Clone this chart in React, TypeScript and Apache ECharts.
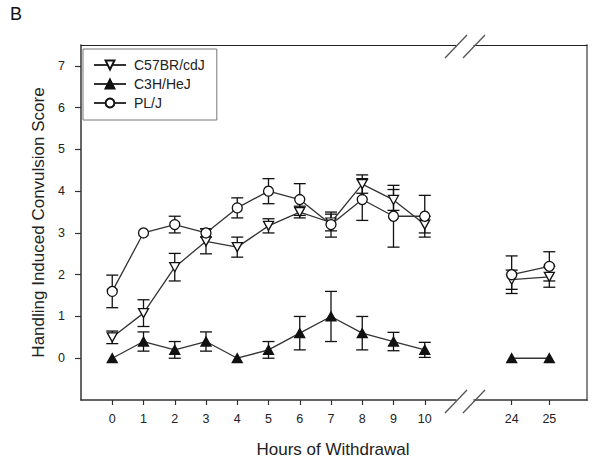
import React, { useEffect, useRef } from "react";
import * as echarts from "echarts";

// Hours of withdrawal (two segments of a broken axis)
const hoursEarly = [0, 1, 2, 3, 4, 5, 6, 7, 8, 9, 10];
const hoursLate = [24, 25];

// C57BR/cdJ (open down-triangle)
const c57Early = [0.5, 1.08, 2.18, 2.8, 2.66, 3.17, 3.5, 3.25, 4.17, 3.79, 3.2];
const c57EarlyErr = [0.15, 0.32, 0.33, 0.3, 0.24, 0.17, 0.14, 0.2, 0.22, 0.25, 0.2];
const c57Late = [1.88, 1.95];
const c57LateErr = [0.23, 0.25];

// C3H/HeJ (filled up-triangle)
const c3hEarly = [0, 0.4, 0.2, 0.4, 0, 0.2, 0.6, 1.0, 0.6, 0.4, 0.2];
const c3hEarlyErr = [0, 0.23, 0.2, 0.23, 0, 0.2, 0.4, 0.6, 0.4, 0.22, 0.18];
const c3hLate = [0, 0];
const c3hLateErr = [0, 0];

// PL/J (open circle)
const plEarly = [1.6, 3.0, 3.2, 3.0, 3.6, 4.0, 3.8, 3.2, 3.8, 3.4, 3.4];
const plEarlyErr = [0.39, 0, 0.2, 0.1, 0.24, 0.3, 0.38, 0.3, 0.5, 0.74, 0.5];
const plLate = [2.0, 2.2];
const plLateErr = [0.45, 0.35];

const yTicks = [0, 1, 2, 3, 4, 5, 6, 7];
const xTicksEarly = [0, 1, 2, 3, 4, 5, 6, 7, 8, 9, 10];
const xTicksLate = [24, 25];

const FONT = "'Liberation Sans', Arial, Helvetica, sans-serif";
const INK = "#111";
const LINE = "#333";

const downTri = "path://M0,0 L10,0 L5,9 Z";

export default function App() {
  const ref = useRef<HTMLDivElement>(null);

  useEffect(() => {
    if (!ref.current) return;
    const chart = echarts.init(ref.current, null, { renderer: "svg" });

    const pts = (xs: number[], ys: number[]) => xs.map((x, i) => [x, ys[i]]);
    const errs = (xs: number[], ys: number[], es: number[]) =>
      xs
        .map((x, i) => [x, ys[i] - es[i], ys[i] + es[i], es[i]])
        .filter((d) => d[3] > 0)
        .map((d) => [d[0], d[1], d[2]]);

    const renderErr = (params: any, api: any) => {
      const x = api.value(0);
      const lo = api.value(1);
      const hi = api.value(2);
      const p1 = api.coord([x, hi]);
      const p2 = api.coord([x, lo]);
      const w = 6;
      const st = { stroke: INK, lineWidth: 1.3 };
      return {
        type: "group",
        children: [
          { type: "line", shape: { x1: p1[0], y1: p1[1], x2: p2[0], y2: p2[1] }, style: st },
          { type: "line", shape: { x1: p1[0] - w, y1: p1[1], x2: p1[0] + w, y2: p1[1] }, style: st },
          { type: "line", shape: { x1: p2[0] - w, y1: p2[1], x2: p2[0] + w, y2: p2[1] }, style: st },
        ],
      };
    };

    const errSeries = (xi: number, data: number[][]) => ({
      type: "custom",
      xAxisIndex: xi,
      yAxisIndex: xi,
      renderItem: renderErr,
      encode: { x: 0, y: [1, 2] },
      data,
      z: 2,
      silent: true,
    });

    const defs = [
      {
        name: "C57BR/cdJ",
        symbol: downTri,
        symbolSize: [10, 9],
        fill: "#fff",
        early: c57Early,
        earlyErr: c57EarlyErr,
        late: c57Late,
        lateErr: c57LateErr,
      },
      {
        name: "C3H/HeJ",
        symbol: "triangle",
        symbolSize: [10, 9],
        fill: INK,
        early: c3hEarly,
        earlyErr: c3hEarlyErr,
        late: c3hLate,
        lateErr: c3hLateErr,
      },
      {
        name: "PL/J",
        symbol: "circle",
        symbolSize: 10,
        fill: "#fff",
        early: plEarly,
        earlyErr: plEarlyErr,
        late: plLate,
        lateErr: plLateErr,
      },
    ];

    const series: any[] = [];
    defs.forEach((d) => {
      series.push(errSeries(0, errs(hoursEarly, d.early, d.earlyErr)));
      series.push(errSeries(1, errs(hoursLate, d.late, d.lateErr)));
    });
    defs.forEach((d, k) => {
      [0, 1].forEach((gi) => {
        series.push({
          type: "line",
          name: d.name,
          xAxisIndex: gi,
          yAxisIndex: gi,
          data: gi === 0 ? pts(hoursEarly, d.early) : pts(hoursLate, d.late),
          symbol: d.symbol,
          symbolSize: d.symbolSize,
          showAllSymbol: true,
          lineStyle: { color: LINE, width: 1.3 },
          itemStyle: { color: d.fill, borderColor: INK, borderWidth: 1.3 },
          z: 3 + k,
          silent: true,
        });
      });
    });

    const axisLine = { show: true, onZero: false, lineStyle: { color: "#333", width: 1.5 } };
    const labelStyle = { color: "#222", fontSize: 12.5, fontFamily: FONT };

    const breakStyle = { stroke: "#555", lineWidth: 1.3 };
    const slash = (x1: number, y1: number, x2: number, y2: number) => ({
      type: "line",
      shape: { x1, y1, x2, y2 },
      style: breakStyle,
      z: 50,
    });

    chart.setOption({
      animation: false,
      backgroundColor: "#fff",
      grid: [
        { left: 81, top: 45, width: 375, height: 355, outerBoundsMode: "none" },
        { left: 474, top: 45, width: 113, height: 355, outerBoundsMode: "none" },
      ],
      xAxis: [
        {
          type: "value",
          gridIndex: 0,
          min: -1,
          max: 11,
          interval: 1,
          splitLine: { show: false },
          axisLine,
          axisTick: { show: true, length: 5, customValues: xTicksEarly, lineStyle: { color: "#333", width: 1.2 } },
          axisLabel: { ...labelStyle, margin: 12, customValues: xTicksEarly },
        },
        {
          type: "value",
          gridIndex: 1,
          min: 23,
          max: 26,
          interval: 1,
          splitLine: { show: false },
          axisLine,
          axisTick: { show: true, length: 5, customValues: xTicksLate, lineStyle: { color: "#333", width: 1.2 } },
          axisLabel: { ...labelStyle, margin: 12, customValues: xTicksLate },
        },
        {
          type: "value",
          gridIndex: 0,
          position: "top",
          min: -1,
          max: 11,
          splitLine: { show: false },
          axisLine: { show: true, onZero: false, lineStyle: { color: "#222", width: 1.2 } },
          axisTick: { show: false },
          axisLabel: { show: false },
        },
        {
          type: "value",
          gridIndex: 1,
          position: "top",
          min: 23,
          max: 26,
          splitLine: { show: false },
          axisLine: { show: true, onZero: false, lineStyle: { color: "#222", width: 1.2 } },
          axisTick: { show: false },
          axisLabel: { show: false },
        },
      ],
      yAxis: [
        {
          type: "value",
          gridIndex: 0,
          min: -1,
          max: 7.5,
          interval: 1,
          splitLine: { show: false },
          axisLine,
          axisTick: { show: true, length: 6, customValues: yTicks, lineStyle: { color: "#333", width: 1.2 } },
          axisLabel: { ...labelStyle, margin: 16, customValues: yTicks },
        },
        {
          type: "value",
          gridIndex: 1,
          position: "right",
          min: -1,
          max: 7.5,
          interval: 1,
          splitLine: { show: false },
          axisLine: { show: true, onZero: false, lineStyle: { color: "#888", width: 2 } },
          axisTick: { show: false },
          axisLabel: { show: false },
        },
      ],
      legend: {
        data: defs.map((d) => d.name),
        orient: "vertical",
        left: 83,
        top: 49,
        padding: [9, 12, 10, 10],
        itemWidth: 32,
        itemHeight: 11,
        itemGap: 5,
        backgroundColor: "#fff",
        borderColor: "#777",
        borderWidth: 1,
        borderRadius: 0,
        selectedMode: false,
        textStyle: { color: "#222", fontSize: 14, fontFamily: FONT, padding: [0, 0, 0, 3] },
      },
      graphic: [
        slash(445, 58, 467, 35),
        slash(463, 58, 485, 35),
        slash(445, 413, 467, 390),
        slash(463, 413, 485, 390),
        {
          type: "text",
          left: 10,
          top: 5,
          style: { text: "B", fontSize: 18, fontFamily: FONT, fill: "#111" },
        },
        {
          type: "text",
          x: 38.5,
          y: 222.5,
          rotation: Math.PI / 2,
          style: {
            text: "Handling Induced Convulsion Score",
            fontSize: 17,
            fontFamily: FONT,
            fill: "#222",
            textAlign: "center",
            textVerticalAlign: "middle",
          },
        },
        {
          type: "text",
          x: 333,
          y: 449,
          style: {
            text: "Hours of Withdrawal",
            fontSize: 17,
            fontFamily: FONT,
            fill: "#222",
            textAlign: "center",
            textVerticalAlign: "middle",
          },
        },
      ],
      series,
    });

    return () => chart.dispose();
  }, []);

  return (
    <div
      ref={ref}
      style={{ position: "fixed", left: 0, top: 0, width: 600, height: 465, background: "#fff" }}
    />
  );
}
